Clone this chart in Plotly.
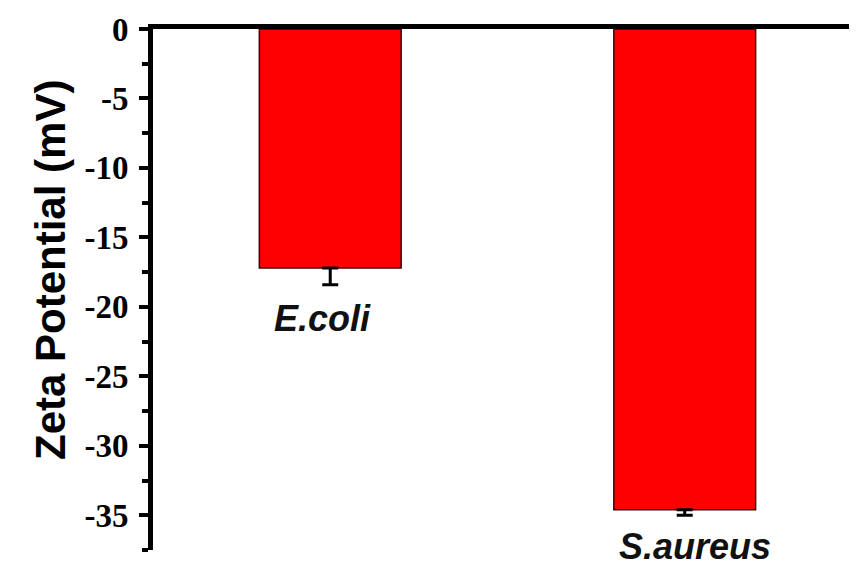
import plotly.graph_objects as go

categories = ["E.coli", "S.aureus"]
zeta_values = [-17.2, -34.6]
error_minus = [1.2, 0.4]
tick_values = [0, -5, -10, -15, -20, -25, -30, -35]
tick_labels = ["0", "-5", "-10", "-15", "-20", "-25", "-30", "-35"]
minor_values = [-2.5, -7.5, -12.5, -17.5, -22.5, -27.5, -32.5, -37.5]
y_title = "Zeta Potential (mV)"

# page body has an 8px margin; shrink figure so it fits the 857x567 window
W, H = 849, 559
L, T, B = 145, 21, 17
plot_h = H - T - B

fig = go.Figure()
fig.add_trace(go.Bar(
    x=categories, y=zeta_values, width=0.4,
    marker=dict(color="#ff0000", line=dict(color="#3a0000", width=1.5)),
    error_y=dict(type="data", symmetric=False, array=[0, 0], arrayminus=error_minus,
                 color="black", thickness=3, width=8),
))

# label vertical centres in window pixels
label_px = [318, 546]
for i, c in enumerate(categories):
    py = label_px[i] - 8
    fig.add_annotation(x=c, xref="x", y=(H - B - py) / plot_h, yref="paper",
                       text="<b><i>%s</i></b>" % c, showarrow=False,
                       xanchor="center", yanchor="middle", xshift=(-8 if i == 0 else 10),
                       font=dict(family="Liberation Sans, Arial", size=36, color="#111"))

fig.add_annotation(x=(50 - 8 - L) / (W - L), xref="paper", y=(H - B - (270 - 8)) / plot_h, yref="paper",
                   text="<b>%s</b>" % y_title, textangle=-90, showarrow=False,
                   xanchor="center", yanchor="middle",
                   font=dict(family="Liberation Sans, Arial", size=42, color="black"))

fig.update_layout(
    width=W, height=H,
    margin=dict(l=L, r=0, t=T, b=B),
    paper_bgcolor="white", plot_bgcolor="white",
    showlegend=False,
    xaxis=dict(type="category", range=[-0.5, 1.486], side="top", showline=True,
               linecolor="black", linewidth=5, showticklabels=False, ticks="",
               showgrid=False, zeroline=False, automargin=False),
    yaxis=dict(range=[-37.5, 0], showline=True, linecolor="black", linewidth=5,
               tickmode="array", tickvals=tick_values, ticktext=tick_labels,
               ticks="outside", ticklen=9, tickwidth=4, tickcolor="black",
               minor=dict(tickmode="array", tickvals=minor_values,
                          ticks="outside", ticklen=6, tickwidth=4, tickcolor="black"),
               tickfont=dict(family="Liberation Serif, Times New Roman", size=33,
                             color="black", weight="bold"),
               ticklabelstandoff=4,
               showgrid=False, zeroline=False, automargin=False),
)

fig.write_html("out.html")
